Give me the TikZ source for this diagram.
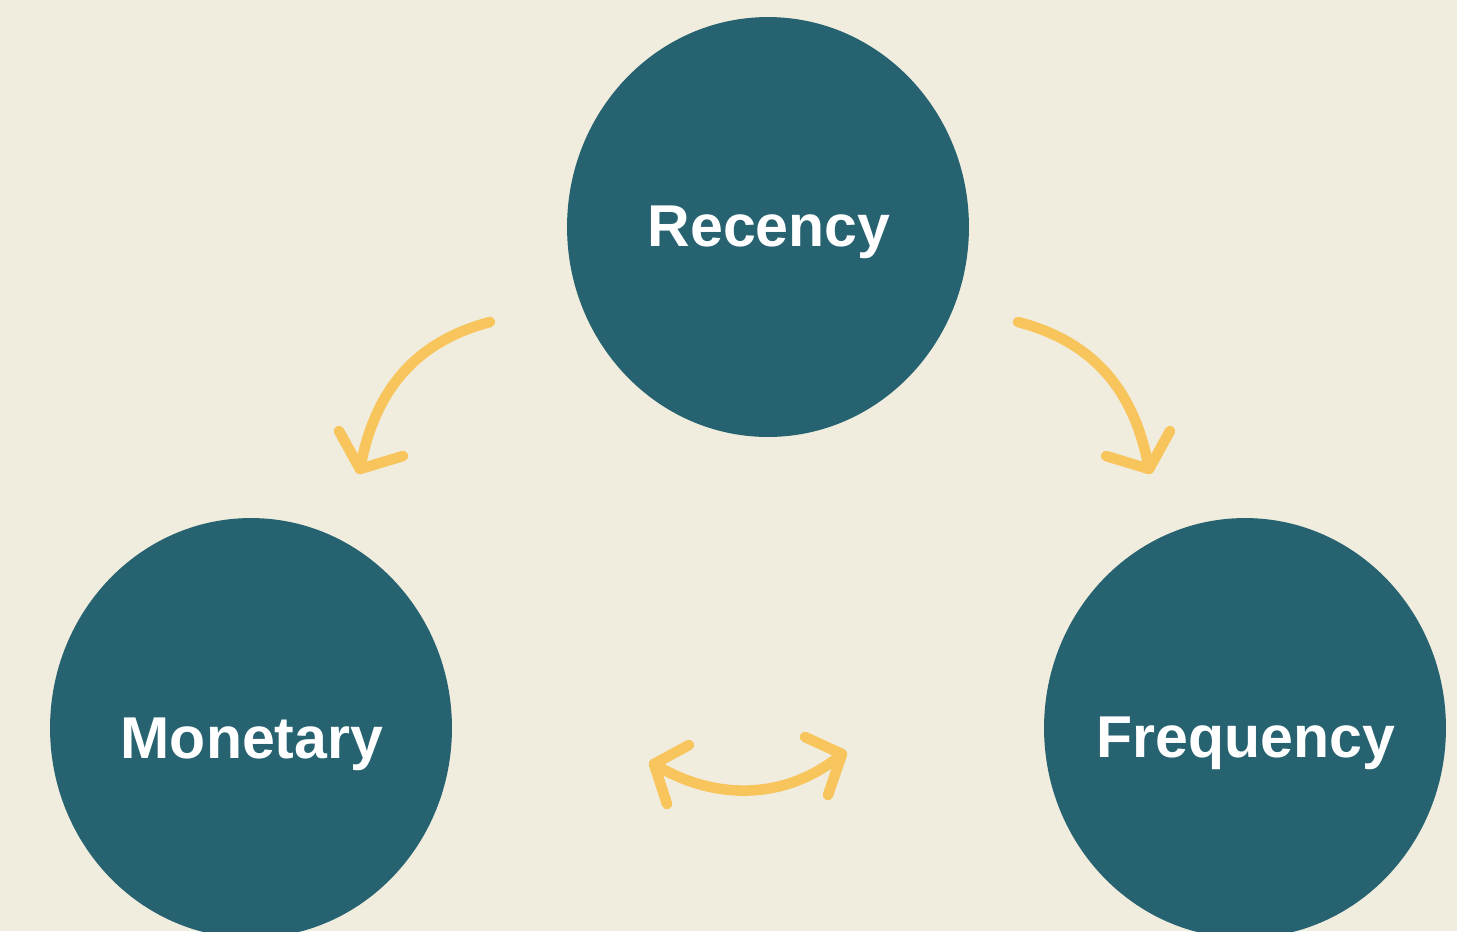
\documentclass[tikz,border=0pt]{standalone}
\usepackage{fontspec}
\setmainfont{Liberation Sans}
\usepackage{tikz}
\usetikzlibrary{shapes.geometric}
\definecolor{bgbeige}{HTML}{F0EDDF}
\definecolor{rfmteal}{HTML}{266270}
\definecolor{rfmyellow}{HTML}{F7C55C}

\begin{document}
\begin{tikzpicture}[x=0.02cm,y=-0.02cm,
    bubble/.style={ellipse,fill=rfmteal,minimum width=8.04cm,minimum height=8.4cm,inner sep=0pt},
    word/.style={anchor=base,text=white,font=\fontsize{33.6}{40}\selectfont\bfseries},
    flow/.style={draw=rfmyellow,line width=6pt,line cap=round,line join=round}]
    \useasboundingbox (0,0) rectangle (1457,931);
    \clip (0,0) rectangle (1457,931);
    \fill[bgbeige] (0,0) rectangle (1457,931);

    % Circles
    \node[bubble] (rec) at (768,227) {};
    \node[bubble] (mon) at (251,728) {};
    \node[bubble] (freq) at (1245,728) {};
    \node[word] (rectext) at (769,246) {Recency};
    \node[word] (montext) at (252,758) {Monetary};
    \node[word] (freqtext) at (1246,757) {Frequency};

    % Recency -> Monetary
    \coordinate (lstart) at (490,322);
    \coordinate (ltip) at (360,469);
    \coordinate (larmA) at (339,431);
    \coordinate (larmB) at (403,456);
    \draw[flow] (lstart) .. controls (414,342) and (374,392) .. (ltip);
    \draw[flow] (larmA) -- (ltip) -- (larmB);

    % Recency -> Frequency
    \coordinate (rstart) at (1018,322);
    \coordinate (rtip) at (1149,469);
    \coordinate (rarmA) at (1170,431);
    \coordinate (rarmB) at (1106,456);
    \draw[flow] (rstart) .. controls (1095,342) and (1135,392) .. (rtip);
    \draw[flow] (rarmA) -- (rtip) -- (rarmB);

    % Monetary <-> Frequency
    \coordinate (btipL) at (654,764);
    \coordinate (btipR) at (842,754);
    \draw[flow] (btipL) .. controls (712,800) and (785,802) .. (btipR);
    \draw[flow] (689,745) -- (btipL) -- (667,804);
    \draw[flow] (805,737) -- (btipR) -- (828,795);
\end{tikzpicture}
\end{document}
